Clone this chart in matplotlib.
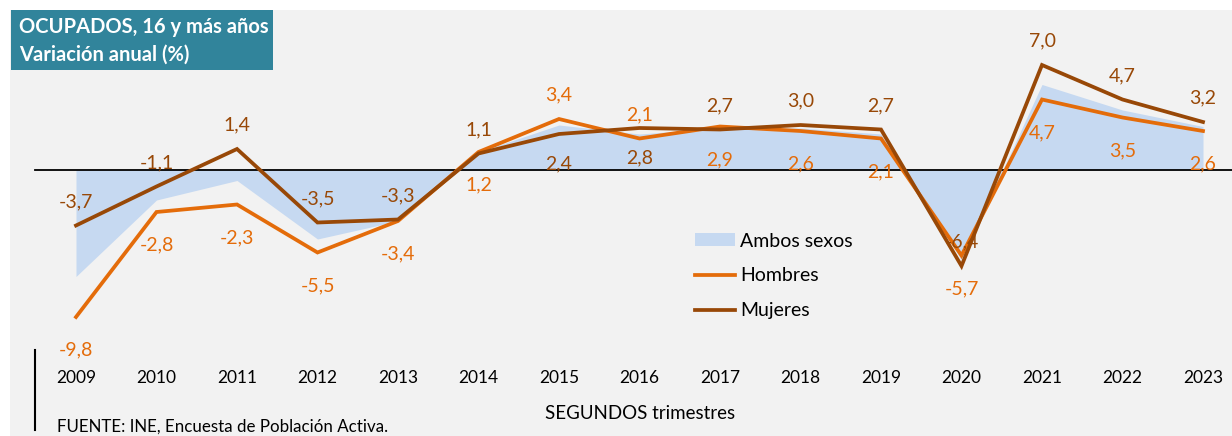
import matplotlib.pyplot as plt
from matplotlib.patches import Patch, Rectangle
from matplotlib.lines import Line2D
import matplotlib.transforms as mtransforms

plt.rcParams['font.family'] = ['Lato', 'DejaVu Sans']

years = list(range(2009, 2024))
ambos = [-7.1, -2.0, -0.7, -4.6, -3.4, 1.2, 3.0, 2.4, 2.8, 2.8, 2.4, -6.0, 5.7, 4.0, 2.9]
hombres = [-9.8, -2.8, -2.3, -5.5, -3.4, 1.2, 3.4, 2.1, 2.9, 2.6, 2.1, -5.7, 4.7, 3.5, 2.6]
mujeres = [-3.7, -1.1, 1.4, -3.5, -3.3, 1.1, 2.4, 2.8, 2.7, 3.0, 2.7, -6.4, 7.0, 4.7, 3.2]

# label placement: True = above the point
muj_above = [True] * 15
muj_above[6] = muj_above[7] = False
hom_above = [not a for a in muj_above]

c_area = '#c6d9f1'
c_hom = '#e46c0a'
c_muj = '#984807'
c_bg = '#f2f2f2'
c_title = '#31849b'

W, H = 1232, 436
fig = plt.figure(figsize=(W / 100, H / 100), dpi=100)
fig.patch.set_facecolor('white')

# gray panel and title box (figure pixels -> fraction)
fig.patches.append(Rectangle((10 / W, 0), 1, 1 - 10 / H, transform=fig.transFigure,
                             facecolor=c_bg, edgecolor='none', zorder=-5))
fig.patches.append(Rectangle((11 / W, 1 - 70 / H), 262 / W, 60 / H, transform=fig.transFigure,
                             facecolor=c_title, edgecolor='none', zorder=-4))
fig.text(19 / W, 1 - 27 / H, 'OCUPADOS, 16 y más años', color='white', fontsize=14.5,
         fontweight='bold', va='center', ha='left')
fig.text(19 / W, 1 - 55 / H, 'Variación anual (%)', color='white', fontsize=14.5,
         fontweight='bold', va='center', ha='left')

ax = fig.add_axes([0, 0, 1, 1])
ax.set_zorder(2)
ax.patch.set_alpha(0)
x0, dx = 76, 80.5
y0, dy = 170, 15.0
ax.set_xlim(2009 - x0 / dx, 2009 + (W - x0) / dx)
ax.set_ylim(-(H - y0) / dy, y0 / dy)
ax.axis('off')

ax.fill_between(years, ambos, 0, color=c_area, lw=0, zorder=2)
ax.plot(years, hombres, color=c_hom, lw=2.7, zorder=4, solid_joinstyle='miter')
ax.plot(years, mujeres, color=c_muj, lw=2.7, zorder=5, solid_joinstyle='miter')

# zero line
ax.plot([2009 - (x0 - 35) / dx, ax.get_xlim()[1]], [0, 0], color='black', lw=1.3, zorder=3)


def fmt(v):
    return ('%.1f' % v).replace('.', ',')


for yr, v, up in zip(years, mujeres, muj_above):
    ax.annotate(fmt(v), (yr, v), xytext=(0, 24 if up else -30), textcoords='offset pixels',
                ha='center', va='center', color=c_muj, fontsize=14, zorder=6)
for yr, v, up in zip(years, hombres, hom_above):
    ax.annotate(fmt(v), (yr, v), xytext=(0, 24 if up else -33), textcoords='offset pixels',
                ha='center', va='center', color=c_hom, fontsize=14, zorder=6)

# year labels
trans = mtransforms.blended_transform_factory(ax.transData, fig.transFigure)
for yr in years:
    ax.text(yr, 1 - 378 / H, str(yr), transform=trans, ha='center', va='center',
            fontsize=12.5, color='black')

fig.text(640 / W, 1 - 413 / H, 'SEGUNDOS trimestres', ha='center', va='center', fontsize=13.5)
fig.text(57 / W, 1 - 427 / H, 'FUENTE: INE, Encuesta de Población Activa.', ha='left',
         va='center', fontsize=12.2)
fig.add_artist(Line2D([35 / W, 35 / W], [1 - 350 / H, 1 - 430 / H], color='black', lw=1.5))

handles = [Patch(facecolor=c_area, edgecolor='none'),
           Line2D([], [], color=c_hom, lw=2.7),
           Line2D([], [], color=c_muj, lw=2.7)]
leg = fig.legend(handles, ['Ambos sexos', 'Hombres', 'Mujeres'], loc='upper left',
                 bbox_to_anchor=(677 / W, 1 - 215 / H), frameon=False, fontsize=14,
                 handlelength=2.1, handleheight=0.6, handletextpad=0.25, labelspacing=0.92)

fig.savefig('out.png', dpi=100, facecolor='white')
